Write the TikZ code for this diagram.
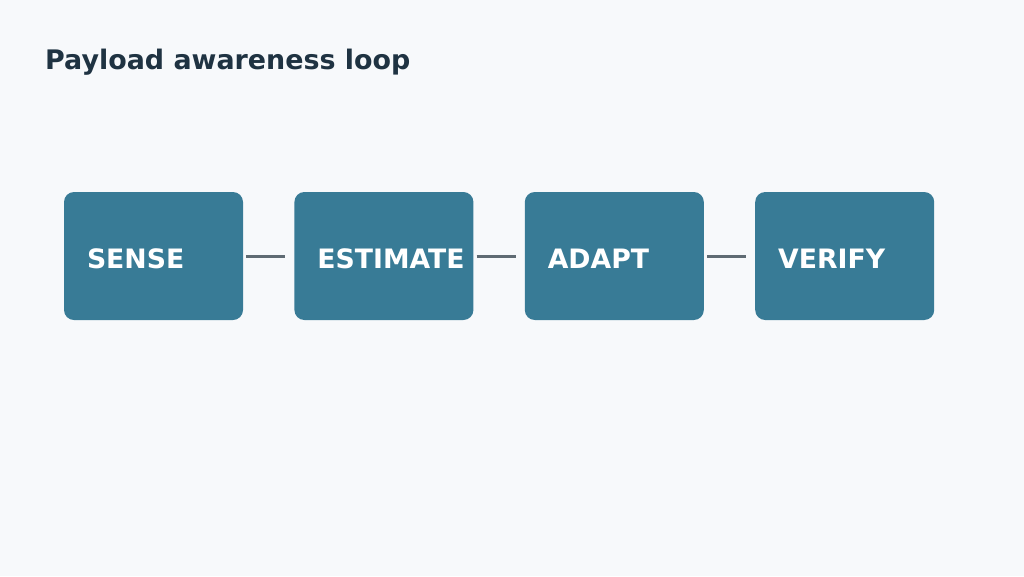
\documentclass[tikz,border=0pt]{standalone}
\usepackage{fontspec}
\setmainfont{DejaVu Sans}
\usetikzlibrary{positioning}
\definecolor{pagebg}{HTML}{F7F9FB}
\definecolor{titleink}{HTML}{1F3342}
\definecolor{stagefill}{HTML}{387B96}
\definecolor{linkgray}{HTML}{5F6B73}
\tikzset{
  stagebox/.style={fill=stagefill, rounded corners=10pt, minimum width=179pt, minimum height=128pt,
    text=white, font=\fontsize{26.7}{32}\selectfont\bfseries, align=left, text width=133pt,
    inner xsep=23pt, inner ysep=0pt, text height=24pt, text depth=0pt},
  link/.style={draw=linkgray, line width=3pt, shorten <=3pt, shorten >=9pt}
}
\begin{document}
\begin{tikzpicture}[x=1pt, y=-1pt]
    \useasboundingbox[fill=pagebg] (0,0) rectangle (1024,576);
    % title
    \node[anchor=base west, inner sep=0pt, text=titleink, font=\fontsize{26.9}{32}\selectfont\bfseries] (title) at (45, 69) {Payload awareness loop};
    % stages
    \node[stagebox] (sense) at (153.5, 256) {SENSE};
    \node[stagebox, right=51pt of sense] (estimate) {ESTIMATE};
    \node[stagebox, right=51pt of estimate] (adapt) {ADAPT};
    \node[stagebox, right=51pt of adapt] (verify) {VERIFY};
    % links
    \draw[link] (sense) -- (estimate);
    \draw[link] (estimate) -- (adapt);
    \draw[link] (adapt) -- (verify);
  \end{tikzpicture}
\end{document}
